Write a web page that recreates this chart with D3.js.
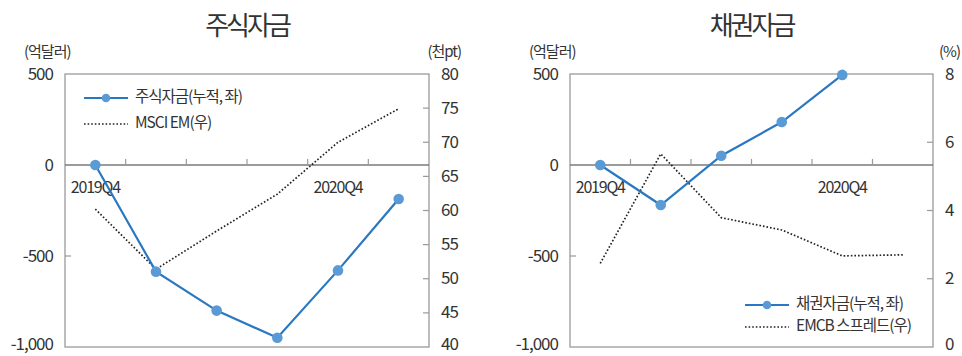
<!DOCTYPE html>
<html>
<head>
<meta charset="utf-8">
<script src="https://cdn.jsdelivr.net/npm/d3@7"></script>
<style>
  html, body { margin: 0; padding: 0; background: #fff; }
  svg text { font-family: "Noto Sans CJK KR", "Noto Sans", sans-serif; fill: #333; }
</style>
</head>
<body>
<svg id="chart" width="962" height="356"></svg>
<script>
// Quarterly categories (shared by both panels)
const quarters = ["2019Q4", "2020Q1", "2020Q2", "2020Q3", "2020Q4", "2021Q1"];
const shownQuarterLabels = ["2019Q4", "2020Q4"];

// Equity panel: cumulative equity flows (USD 100m) and MSCI EM (thousand pt)
const equityFlow = [0, -586, -800, -949, -579, -187];
const msciEM = [60.2, 51.4, 57.0, 62.4, 70.0, 74.9];

// Bond panel: cumulative bond flows (USD 100m) and EMCB spread (%)
const bondFlow = [0, -220, 51, 236, 495];
const emcbSpread = [2.45, 5.66, 3.79, 3.43, 2.67, 2.70];

// Axis ticks
const leftTicks = [-1000, -500, 0, 500];
const msciTicks = [40, 45, 50, 55, 60, 65, 70, 75, 80];
const spreadTicks = [0, 2, 4, 6, 8];

const svg = d3.select("#chart");
const BLUE = "#2a78c2";
const DOT = "#5b9bd5";
// thousands separator with a plain hyphen for negatives
const fmtLeft = d3.formatLocale({ decimal: ".", thousands: ",", grouping: [3], currency: ["", ""], minus: "-" }).format(",");

function panel(opt) {
  const g = svg.append("g");
  const x = d3.scalePoint().domain(quarters).range([opt.x0, opt.x1]).padding(0.5);
  const band = d3.scaleBand().domain(quarters).range([opt.x0, opt.x1]);
  const yL = d3.scaleLinear().domain([-1000, 500]).range([opt.yBot, opt.yTop]);
  const yR = d3.scaleLinear().domain(opt.rDomain).range([opt.yBot, opt.yTop]);
  // keep the lowest labels inside the canvas
  const labelY = y => Math.min(y + 1, 345);

  // title and unit labels
  g.append("text").attr("x", (opt.x0 + opt.x1) / 2).attr("y", 35)
    .attr("text-anchor", "middle").attr("font-size", 26).attr("letter-spacing", -3)
    .text(opt.title);
  g.append("text").attr("x", opt.x0 - 41).attr("y", 57).attr("font-size", 15)
    .attr("letter-spacing", -1).text("(억달러)");
  g.append("text").attr("x", opt.unitRX).attr("y", 57).attr("font-size", 15)
    .attr("text-anchor", "end").attr("letter-spacing", -1).text(opt.unitR);

  // frame
  g.append("rect").attr("x", opt.x0).attr("y", opt.yTop)
    .attr("width", opt.x1 - opt.x0).attr("height", opt.yBot - opt.yTop)
    .attr("fill", "none").attr("stroke", "#9a9a9a").attr("stroke-width", 1.3);

  // left axis labels
  g.selectAll(".lt").data(leftTicks).join("text")
    .attr("x", opt.x0 - 12).attr("y", d => labelY(yL(d)))
    .attr("text-anchor", "end").attr("dominant-baseline", "middle")
    .attr("font-size", 17).attr("letter-spacing", -1)
    .text(d => fmtLeft(d));
  g.selectAll(".ltm").data(leftTicks.filter(d => d !== 0 && d > -1000 && d < 500)).join("line")
    .attr("x1", opt.x0).attr("x2", opt.x0 + 6)
    .attr("y1", d => yL(d)).attr("y2", d => yL(d))
    .attr("stroke", "#9a9a9a").attr("stroke-width", 1.2);

  // right axis labels and inward ticks
  g.selectAll(".rt").data(opt.rTicks).join("text")
    .attr("x", opt.x1 + 12).attr("y", d => labelY(yR(d)))
    .attr("dominant-baseline", "middle")
    .attr("font-size", 17).attr("letter-spacing", -1)
    .text(d => d);
  g.selectAll(".rtm").data(opt.rTicks.filter(d => d > opt.rDomain[0] && d < opt.rDomain[1])).join("line")
    .attr("x1", opt.x1 - 6).attr("x2", opt.x1)
    .attr("y1", d => yR(d)).attr("y2", d => yR(d))
    .attr("stroke", "#9a9a9a").attr("stroke-width", 1.2);

  // zero line with category boundary ticks
  g.append("line").attr("x1", opt.x0).attr("x2", opt.x1)
    .attr("y1", yL(0)).attr("y2", yL(0))
    .attr("stroke", "#7a7a7a").attr("stroke-width", 1.4);
  g.selectAll(".xt").data(quarters.slice(1)).join("line")
    .attr("x1", d => band(d)).attr("x2", d => band(d))
    .attr("y1", yL(0)).attr("y2", yL(0) - 6)
    .attr("stroke", "#9a9a9a").attr("stroke-width", 1.2);
  g.selectAll(".xl").data(quarters.filter(q => shownQuarterLabels.includes(q))).join("text")
    .attr("x", d => x(d)).attr("y", yL(0) + 28)
    .attr("text-anchor", "middle").attr("font-size", 16).attr("letter-spacing", -1.2)
    .text(d => d);

  // right-axis dotted series
  const rLine = d3.line().x((d, i) => x(quarters[i])).y(d => yR(d));
  g.append("path").datum(opt.rSeries).attr("d", rLine)
    .attr("fill", "none").attr("stroke", "#222").attr("stroke-width", 1.7)
    .attr("stroke-dasharray", "1.6,2");

  // left-axis flow series with markers
  const lLine = d3.line().x((d, i) => x(quarters[i])).y(d => yL(d));
  g.append("path").datum(opt.lSeries).attr("d", lLine)
    .attr("fill", "none").attr("stroke", BLUE).attr("stroke-width", 2.2);
  g.selectAll(".pt").data(opt.lSeries).join("circle")
    .attr("cx", (d, i) => x(quarters[i])).attr("cy", d => yL(d)).attr("r", 5.3)
    .attr("fill", DOT);

  // legend
  const lg = g.append("g").attr("transform", `translate(${opt.legX},${opt.legY})`);
  lg.append("line").attr("x1", 0).attr("x2", 44).attr("y1", 0).attr("y2", 0)
    .attr("stroke", BLUE).attr("stroke-width", 2.2);
  lg.append("circle").attr("cx", 22).attr("cy", 0).attr("r", 4.3).attr("fill", DOT);
  lg.append("text").attr("x", 51).attr("y", 0).attr("dominant-baseline", "middle")
    .attr("font-size", 15.5).attr("letter-spacing", -1).text(opt.legL);
  lg.append("line").attr("x1", 0).attr("x2", 44).attr("y1", opt.legGap).attr("y2", opt.legGap)
    .attr("stroke", "#222").attr("stroke-width", 1.7).attr("stroke-dasharray", "1.6,2");
  lg.append("text").attr("x", 51).attr("y", opt.legGap).attr("dominant-baseline", "middle")
    .attr("font-size", 15.5).attr("letter-spacing", -1).text(opt.legR);
}

panel({
  x0: 65, x1: 429, yTop: 74, yBot: 347,
  title: "주식자금", unitR: "(천pt)", unitRX: 461,
  rDomain: [40, 80], rTicks: msciTicks,
  lSeries: equityFlow, rSeries: msciEM,
  legX: 84, legY: 98, legGap: 26,
  legL: "주식자금(누적, 좌)", legR: "MSCI EM(우)"
});

panel({
  x0: 570, x1: 933, yTop: 74, yBot: 347,
  title: "채권자금", unitR: "(%)", unitRX: 960,
  rDomain: [0, 8], rTicks: spreadTicks,
  lSeries: bondFlow, rSeries: emcbSpread,
  legX: 745, legY: 305, legGap: 22,
  legL: "채권자금(누적, 좌)", legR: "EMCB 스프레드(우)"
});
</script>
</body>
</html>
